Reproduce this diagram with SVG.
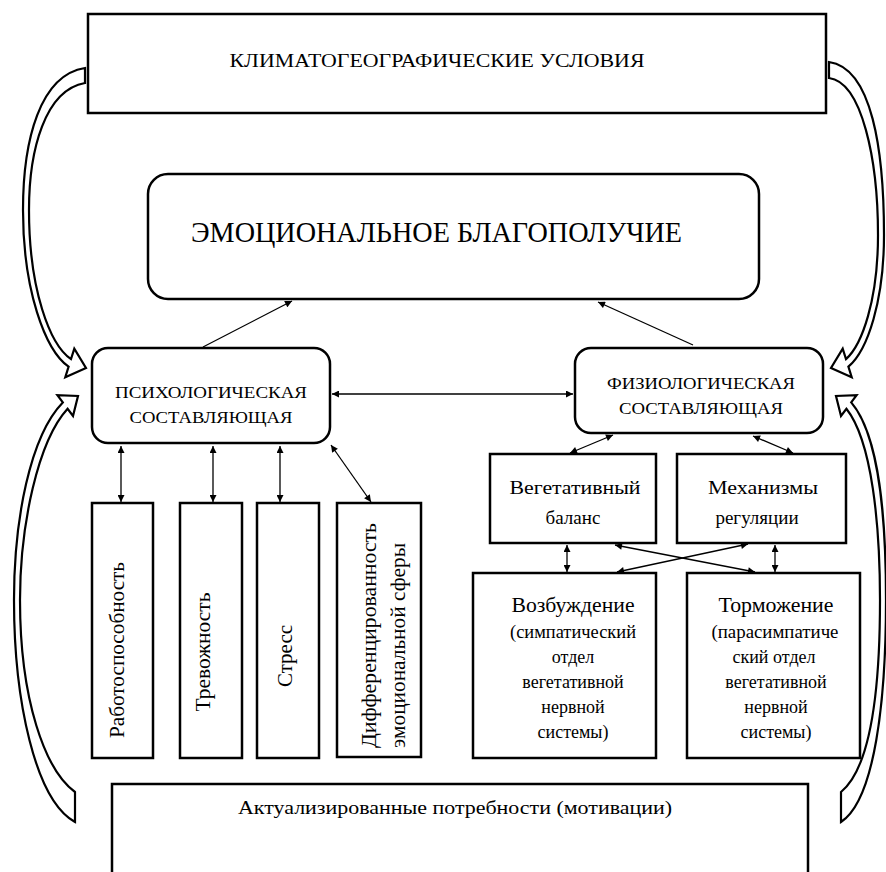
<svg xmlns="http://www.w3.org/2000/svg" width="886" height="872" viewBox="0 0 886 872">
<style>
.box{fill:#fff;stroke:#000;stroke-width:2.5}
.t{font-family:"Liberation Serif","Times New Roman",serif;fill:#000}
.c{text-anchor:middle}
.ln{stroke:#000;stroke-width:1.3;fill:none}
.da{marker-start:url(#ah);marker-end:url(#ah)}
.sa{marker-end:url(#ah)}
.big{fill:#fff;stroke:#000;stroke-width:2.2;stroke-linejoin:miter}
</style>
<defs>
<marker id="ah" viewBox="0 0 10 10" refX="10" refY="5" markerWidth="8" markerHeight="7" orient="auto-start-reverse" markerUnits="userSpaceOnUse"><path d="M0,0 L10,5 L0,10 Z" fill="#000"/></marker>
</defs>
<rect width="886" height="872" fill="#fff"/>

<g id="connectors">
<line class="ln sa" x1="203" y1="347" x2="292" y2="301"/>
<line class="ln sa" x1="693" y1="345" x2="598" y2="302"/>
<line class="ln da" x1="332" y1="394" x2="573" y2="394"/>
<line class="ln da" x1="121" y1="446" x2="121" y2="502"/>
<line class="ln da" x1="213" y1="446" x2="213" y2="502"/>
<line class="ln da" x1="280" y1="446" x2="280" y2="502"/>
<line class="ln da" x1="331" y1="445" x2="371" y2="502"/>
<line class="ln da" x1="570" y1="453" x2="613" y2="435"/>
<line class="ln da" x1="753" y1="436" x2="793" y2="453"/>
<line class="ln da" x1="567" y1="545" x2="567" y2="572"/>
<line class="ln da" x1="775" y1="545" x2="775" y2="572"/>
<line class="ln da" x1="615" y1="545" x2="755" y2="572"/>
<line class="ln da" x1="748" y1="544" x2="617" y2="572"/>
<path class="big" d="M85,68 C40,75 23,140 23,210 C23,290 45,350 68.6,366.7 L65.3,377.2 L86,368 L74.3,348.6 L71,359.1 C50,345 29,290 29,210 C29,150 45,90 85,83 Z"/>
<path class="big" d="M829,62 C872,68 884,150 884,235 C884,300 868,350 848.4,366.7 L851.7,377.2 L831,368 L842.7,348.6 L846,359.1 C862,345 878,300 878,235 C878,160 862,82 829,78 Z"/>
<path class="big" d="M62.8,402.4 C30,436 14,520 14,600 C14,700 35,800 75,822 L75,792 C45,770 20,700 20,600 C20,525 38,441 67.6,408.8 L73,416 L78,396 L57.4,395.2 Z"/>
<path class="big" d="M851.2,402.4 C880,436 886,520 886,600 C886,700 875,800 841,822 L841,792 C868,770 880,700 880,600 C880,525 872,441 846.4,408.8 L841,416 L836,396 L856.6,395.2 Z"/>
</g>

<g id="climate">
<rect class="box" x="88" y="14" width="738" height="99"/>
<text class="t c" x="437" y="67" font-size="19" textLength="415" lengthAdjust="spacingAndGlyphs">КЛИМАТОГЕОГРАФИЧЕСКИЕ УСЛОВИЯ</text>
</g>

<g id="emotional">
<rect class="box" x="148" y="174" width="611" height="125" rx="20"/>
<text class="t c" x="436.5" y="242" font-size="29" textLength="491" lengthAdjust="spacingAndGlyphs">ЭМОЦИОНАЛЬНОЕ БЛАГОПОЛУЧИЕ</text>
</g>

<g id="psych">
<rect class="box" x="92" y="348" width="238" height="95" rx="16"/>
<text class="t c" x="211" y="398" font-size="17" textLength="192" lengthAdjust="spacingAndGlyphs">ПСИХОЛОГИЧЕСКАЯ</text>
<text class="t c" x="211" y="423" font-size="17" textLength="163" lengthAdjust="spacingAndGlyphs">СОСТАВЛЯЮЩАЯ</text>
</g>

<g id="phys">
<rect class="box" x="575" y="348" width="248" height="85" rx="16"/>
<text class="t c" x="701" y="389" font-size="17" textLength="188" lengthAdjust="spacingAndGlyphs">ФИЗИОЛОГИЧЕСКАЯ</text>
<text class="t c" x="701" y="414" font-size="17" textLength="164" lengthAdjust="spacingAndGlyphs">СОСТАВЛЯЮЩАЯ</text>
</g>

<g id="work">
<rect class="box" x="92" y="503" width="61" height="255"/>
<text class="t c" transform="translate(117,650) rotate(-90)" dominant-baseline="central" font-size="21" textLength="176" lengthAdjust="spacingAndGlyphs">Работоспособность</text>
</g>
<g id="anxiety">
<rect class="box" x="180" y="503" width="62" height="255"/>
<text class="t c" transform="translate(203,652) rotate(-90)" dominant-baseline="central" font-size="21" textLength="119" lengthAdjust="spacingAndGlyphs">Тревожность</text>
</g>
<g id="stress">
<rect class="box" x="257" y="503" width="62" height="255"/>
<text class="t c" transform="translate(285,656) rotate(-90)" dominant-baseline="central" font-size="21" textLength="62" lengthAdjust="spacingAndGlyphs">Стресс</text>
</g>
<g id="diff">
<rect class="box" x="337" y="503" width="84" height="254"/>
<text class="t" transform="translate(369,748) rotate(-90)" dominant-baseline="central" font-size="21" textLength="225" lengthAdjust="spacingAndGlyphs">Дифференцированность</text>
<text class="t" transform="translate(398,748) rotate(-90)" dominant-baseline="central" font-size="21" textLength="205" lengthAdjust="spacingAndGlyphs">эмоциональной сферы</text>
</g>

<g id="vegbal">
<rect class="box" x="490" y="454" width="166" height="89"/>
<text class="t c" x="575" y="494" font-size="19" textLength="131" lengthAdjust="spacingAndGlyphs">Вегетативный</text>
<text class="t c" x="573" y="524" font-size="19">баланс</text>
</g>
<g id="mech">
<rect class="box" x="677" y="454" width="169" height="89"/>
<text class="t c" x="763" y="494" font-size="19" textLength="110" lengthAdjust="spacingAndGlyphs">Механизмы</text>
<text class="t c" x="757" y="524" font-size="19">регуляции</text>
</g>

<g id="excite">
<rect class="box" x="473" y="573" width="183" height="185"/>
<text class="t c" x="573" y="612" font-size="22" textLength="123" lengthAdjust="spacingAndGlyphs">Возбуждение</text>
<text class="t c" x="573" y="638" font-size="18" textLength="126" lengthAdjust="spacingAndGlyphs">(симпатический</text>
<text class="t c" x="573" y="663" font-size="18">отдел</text>
<text class="t c" x="573" y="688" font-size="18">вегетативной</text>
<text class="t c" x="573" y="713" font-size="18">нервной</text>
<text class="t c" x="573" y="738" font-size="18">системы)</text>
</g>
<g id="inhibit">
<rect class="box" x="687" y="573" width="173" height="185"/>
<text class="t c" x="776" y="612" font-size="22" textLength="115" lengthAdjust="spacingAndGlyphs">Торможение</text>
<text class="t c" x="775" y="638" font-size="18" textLength="127" lengthAdjust="spacingAndGlyphs">(парасимпатиче</text>
<text class="t c" x="774" y="663" font-size="18">ский отдел</text>
<text class="t c" x="776" y="688" font-size="18">вегетативной</text>
<text class="t c" x="776" y="713" font-size="18">нервной</text>
<text class="t c" x="776" y="738" font-size="18">системы)</text>
</g>

<g id="needs">
<rect class="box" x="112" y="784" width="696" height="100"/>
<text class="t c" x="455" y="814" font-size="19" textLength="434" lengthAdjust="spacingAndGlyphs">Актуализированные потребности (мотивации)</text>
</g>
</svg>
